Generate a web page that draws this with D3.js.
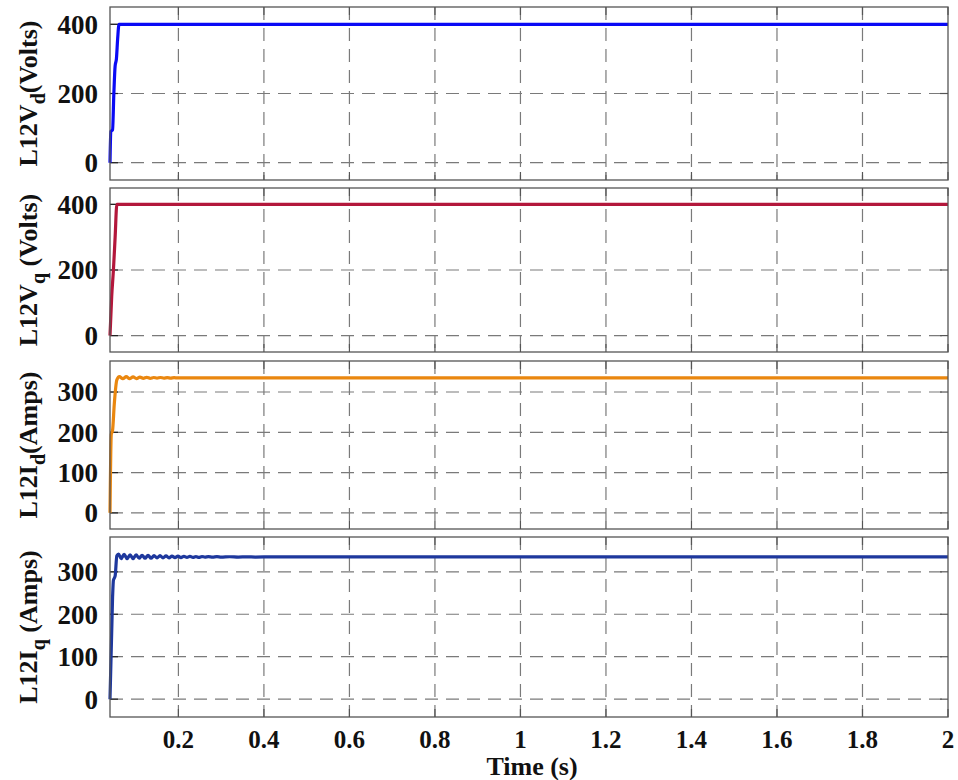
<!DOCTYPE html>
<html>
<head>
<meta charset="utf-8">
<script src="https://cdn.jsdelivr.net/npm/d3@7"></script>
<style>
  html, body { margin: 0; padding: 0; background: #fff; }
  svg { display: block; }
  text { font-family: "Liberation Serif", "Times New Roman", serif; font-weight: bold; fill: #111; }
</style>
</head>
<body>
<svg id="chart" width="958" height="780"></svg>
<script>
// ---- Data ----
const xTicks = [0.2, 0.4, 0.6, 0.8, 1, 1.2, 1.4, 1.6, 1.8, 2];
const xTickLabels = ["0.2", "0.4", "0.6", "0.8", "1", "1.2", "1.4", "1.6", "1.8", "2"];

const vdTime  = [0.04, 0.042, 0.046, 0.049, 0.052, 0.055, 0.058, 0.061, 2.0];
const vdValue = [0,    90,    95,    200,   280,   300,   360,   400,   400];

const vqTime  = [0.04, 0.044, 0.048, 0.052, 0.056, 2.0];
const vqValue = [0,    120,   200,   300,   400,   400];

const idTime  = [0.04, 0.043, 0.046, 0.050, 0.056, 0.062, 0.070, 0.078, 0.086, 0.094, 0.102, 0.110, 0.118, 0.126, 0.134, 0.142, 0.150, 0.158, 0.166, 0.174, 0.182, 0.190, 0.198, 0.210, 0.230, 2.0];
const idValue = [0,    195,   205,   270,   330,   338,   333,   338,   333,   337.5, 333.5, 337,   334,   336.5, 334,   336,   334.5, 336,   334.5, 335.7, 334.7, 335.5, 335,   335.3, 335,   335];

const iqTime  = [0.04, 0.046, 0.048, 0.052, 0.056, 0.060, 0.066, 0.073, 0.080, 0.087, 0.094, 0.101, 0.108, 0.115, 0.122, 0.129, 0.136, 0.143, 0.150, 0.157, 0.164, 0.171, 0.178, 0.185, 0.192, 0.199, 0.206, 0.213, 0.220, 0.227, 0.234, 0.241, 0.248, 0.255, 0.262, 0.270, 0.280, 0.290, 0.300, 0.320, 0.340, 0.360, 0.380, 0.420, 0.500, 2.0];
const iqValue = [0,    240,   280,   290,   338,   342,   331,   341,   331,   340,   331,   340,   332,   339,   332,   339,   332,   338,   333,   338,   333,   337.5, 333,   337,   333.5, 337,   333.5, 336.5, 334,   336.5, 334,   336,   334,   336,   334.5, 335.8, 334.5, 335.6, 334.6, 335.5, 334.7, 335.3, 334.8, 335.2, 335,   335];

const yTicks1 = [0, 200, 400];
const yTicks2 = [0, 200, 400];
const yTicks3 = [0, 100, 200, 300];
const yTicks4 = [0, 100, 200, 300];

// ---- Layout ----
const svg = d3.select("#chart");
const left = 110, right = 948;
const x = d3.scaleLinear().domain([0.04, 2]).range([left, right]);

const panels = [
  { top: 7,   bottom: 180, domain: [-50, 450], ticks: yTicks1, t: vdTime, v: vdValue, color: "#0a0af5", title: ["L12V", "d", "(Volts)"] },
  { top: 188, bottom: 352, domain: [-50, 450], ticks: yTicks2, t: vqTime, v: vqValue, color: "#b3173b", title: ["L12V", "q", " (Volts)"] },
  { top: 361, bottom: 529, domain: [-40, 377], ticks: yTicks3, t: idTime, v: idValue, color: "#ea870f", title: ["L12I", "d", "(Amps)"] },
  { top: 537, bottom: 717, domain: [-42, 382], ticks: yTicks4, t: iqTime, v: iqValue, color: "#1e389d", title: ["L12I", "q", " (Amps)"] }
];

const gridColor = "#7a7a7a";
const frameColor = "#555";

panels.forEach((p, i) => {
  const y = d3.scaleLinear().domain(p.domain).range([p.bottom, p.top]);
  const g = svg.append("g");

  g.selectAll(".hg").data(p.ticks).enter().append("line")
    .attr("x1", left).attr("x2", right)
    .attr("y1", d => y(d)).attr("y2", d => y(d))
    .attr("stroke", gridColor).attr("stroke-width", 1.2)
    .attr("stroke-dasharray", "13,8");

  g.selectAll(".vg").data(xTicks.filter(d => d < 2)).enter().append("line")
    .attr("x1", d => x(d)).attr("x2", d => x(d))
    .attr("y1", p.top).attr("y2", p.bottom)
    .attr("stroke", gridColor).attr("stroke-width", 1.2)
    .attr("stroke-dasharray", "13,8");

  g.selectAll(".tb").data(xTicks).enter().append("line")
    .attr("x1", d => x(d)).attr("x2", d => x(d))
    .attr("y1", p.bottom).attr("y2", p.bottom - 8)
    .attr("stroke", frameColor).attr("stroke-width", 1.2);
  g.selectAll(".tt").data(xTicks).enter().append("line")
    .attr("x1", d => x(d)).attr("x2", d => x(d))
    .attr("y1", p.top).attr("y2", p.top + 8)
    .attr("stroke", frameColor).attr("stroke-width", 1.2);
  g.selectAll(".tl").data(p.ticks).enter().append("line")
    .attr("x1", left).attr("x2", left + 8)
    .attr("y1", d => y(d)).attr("y2", d => y(d))
    .attr("stroke", "#222").attr("stroke-width", 1.2);
  g.selectAll(".tr").data(p.ticks).enter().append("line")
    .attr("x1", right).attr("x2", right - 8)
    .attr("y1", d => y(d)).attr("y2", d => y(d))
    .attr("stroke", frameColor).attr("stroke-width", 1.2);

  const pts = p.t.map((t, k) => [t, p.v[k]]);
  const line = d3.line().x(d => x(d[0])).y(d => y(d[1])).curve(d3.curveMonotoneX);
  g.append("path").datum(pts)
    .attr("d", line)
    .attr("fill", "none")
    .attr("stroke", p.color)
    .attr("stroke-width", 3.2)
    .attr("stroke-linejoin", "round");

  g.append("rect")
    .attr("x", left).attr("y", p.top)
    .attr("width", right - left).attr("height", p.bottom - p.top)
    .attr("fill", "none").attr("stroke", frameColor).attr("stroke-width", 1.3);

  g.selectAll(".yl").data(p.ticks).enter().append("text")
    .attr("x", 98).attr("y", d => y(d))
    .attr("dy", "0.35em")
    .attr("text-anchor", "end")
    .style("font-size", "27px")
    .text(d => d);

  const cy = (p.top + p.bottom) / 2;
  const tt = g.append("text")
    .attr("transform", `translate(37,${cy}) rotate(-90)`)
    .attr("text-anchor", "middle")
    .style("font-size", "26px");
  tt.append("tspan").text(p.title[0]);
  tt.append("tspan").attr("dy", 8).style("font-size", "20px").text(p.title[1]);
  tt.append("tspan").attr("dy", -8).text(p.title[2]);
});

svg.selectAll(".xl").data(xTicks).enter().append("text")
  .attr("x", d => x(d)).attr("y", 748)
  .attr("text-anchor", "middle")
  .style("font-size", "25px")
  .text((d, i) => xTickLabels[i]);

svg.append("text")
  .attr("x", 532).attr("y", 775)
  .attr("text-anchor", "middle")
  .style("font-size", "26px")
  .text("Time (s)");
</script>
</body>
</html>
